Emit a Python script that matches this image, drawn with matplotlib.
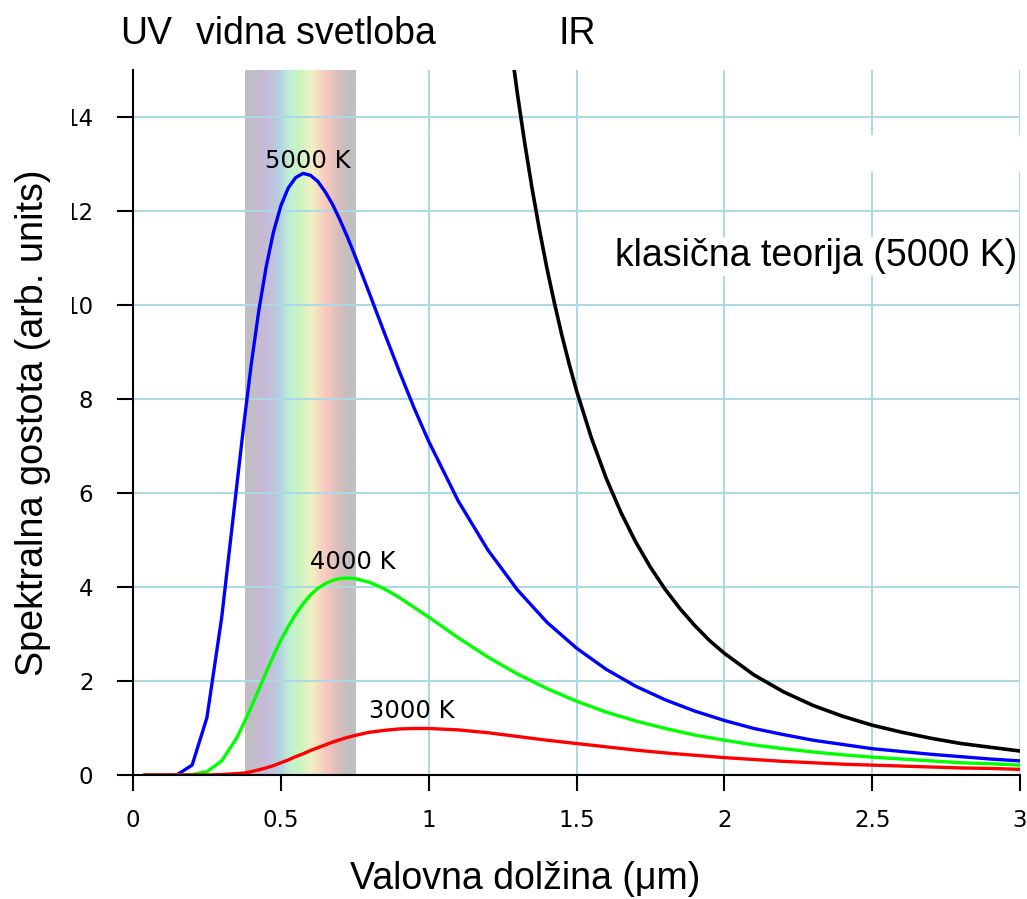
import numpy as np
import matplotlib
matplotlib.use("Agg")
import matplotlib.pyplot as plt
from matplotlib.colors import LinearSegmentedColormap
from matplotlib.patches import Rectangle

# ---------------- data ----------------
wavelength = [0.04, 0.10, 0.15, 0.20, 0.25, 0.30, 0.35, 0.375, 0.40, 0.425,
              0.45, 0.475, 0.50, 0.525, 0.55, 0.575, 0.60, 0.625, 0.65, 0.675,
              0.70, 0.725, 0.75, 0.80, 0.85, 0.90, 0.95, 1.00,
              1.1, 1.2, 1.3, 1.4, 1.5, 1.6, 1.7, 1.8, 1.9, 2.0,
              2.1, 2.2, 2.3, 2.4, 2.5, 2.6, 2.7, 2.8, 2.9, 3.0]
t5000 = [0.00, 0.00, 0.01, 0.21, 1.22, 3.35, 6.10, 7.47, 8.74, 9.86,
         10.80, 11.55, 12.11, 12.49, 12.71, 12.80, 12.76, 12.63, 12.41, 12.14,
         11.81, 11.45, 11.06, 10.24, 9.41, 8.60, 7.82, 7.10,
         5.83, 4.79, 3.94, 3.25, 2.70, 2.25, 1.89, 1.60, 1.36, 1.16,
         0.99, 0.86, 0.74, 0.65, 0.56, 0.50, 0.44, 0.39, 0.34, 0.30]
t4000 = [0.00, 0.00, 0.00, 0.01, 0.07, 0.30, 0.78, 1.10, 1.45, 1.81,
         2.18, 2.54, 2.87, 3.16, 3.42, 3.64, 3.83, 3.97, 4.07, 4.14,
         4.18, 4.19, 4.18, 4.10, 3.96, 3.78, 3.57, 3.36,
         2.92, 2.51, 2.15, 1.84, 1.57, 1.34, 1.15, 0.99, 0.85, 0.74,
         0.64, 0.56, 0.49, 0.43, 0.38, 0.34, 0.30, 0.26, 0.24, 0.21]
t3000 = [0.00, 0.00, 0.00, 0.00, 0.00, 0.01, 0.03, 0.04, 0.07, 0.11,
         0.15, 0.20, 0.26, 0.32, 0.39, 0.45, 0.52, 0.58, 0.64, 0.70,
         0.75, 0.80, 0.84, 0.91, 0.95, 0.98, 0.99, 0.99,
         0.96, 0.90, 0.82, 0.74, 0.67, 0.60, 0.53, 0.47, 0.42, 0.37,
         0.33, 0.29, 0.26, 0.23, 0.21, 0.19, 0.17, 0.15, 0.14, 0.12]
classic_wl = [1.25, 1.275, 1.30, 1.325, 1.35, 1.375, 1.40, 1.425, 1.45, 1.475,
              1.50, 1.55, 1.60, 1.65, 1.70, 1.75, 1.80, 1.85, 1.90, 1.95,
              2.0, 2.1, 2.2, 2.3, 2.4, 2.5, 2.6, 2.7, 2.8, 2.9, 3.0]
classic = [16.97, 15.67, 14.50, 13.44, 12.47, 11.59, 10.78, 10.05, 9.37, 8.75,
           8.18, 7.18, 6.32, 5.59, 4.96, 4.42, 3.95, 3.54, 3.18, 2.86,
           2.59, 2.13, 1.77, 1.48, 1.25, 1.06, 0.91, 0.78, 0.67, 0.59, 0.51]
visible_range = [0.379, 0.754]
xticks = [0, 0.5, 1, 1.5, 2, 2.5, 3]
xtick_labels = ["0", "0.5", "1", "1.5", "2", "2.5", "3"]
yticks = [0, 2, 4, 6, 8, 10, 12, 14]
ytick_labels = ["0", "2", "4", "6", "8", "10", "12", "14"]

# ---------------- figure ----------------
plt.rcParams['font.family'] = ['DejaVu Sans']
LAB = ['Liberation Sans', 'DejaVu Sans']

W, H = 1027, 899
fig = plt.figure(figsize=(W / 100, H / 100), dpi=100)
ax = fig.add_axes([133 / W, 1 - 775 / H, (1020 - 133) / W, (775 - 70) / H])

# visible light band
band_cmap = LinearSegmentedColormap.from_list("band", [
    (0.00, "#bfbfbf"), (0.08, "#c2bec9"), (0.17, "#c9b9d9"),
    (0.30, "#b8cbdf"), (0.40, "#c0efd6"), (0.48, "#c8f5c2"),
    (0.60, "#f2f0c2"), (0.73, "#f9c9c0"), (0.86, "#d5bdbd"),
    (0.95, "#c0c0c0"), (1.00, "#c0c0c0")])
grad = np.linspace(0, 1, 256)[None, :]
ax.imshow(grad, cmap=band_cmap, extent=[visible_range[0], visible_range[1], 0, 15],
          aspect='auto', zorder=0.2, interpolation='bilinear')

ax.set_axisbelow(True)
ax.grid(True, color='#add8e6', lw=1.5)

# white gap in grid lines
ax.add_patch(Rectangle((2.3, 12.83), 0.8, 0.79, facecolor='white',
                       edgecolor='none', zorder=0.9, clip_on=False))

ax.plot(classic_wl, classic, color='black', lw=2.6, zorder=2)
ax.plot(wavelength, t5000, color='#0000ff', lw=2.4, zorder=2)
ax.plot(wavelength, t4000, color='#00ff00', lw=2.4, zorder=2)
ax.plot(wavelength, t3000, color='#ff0000', lw=2.4, zorder=2)

ax.set_xlim(0, 3)
ax.set_ylim(0, 15)
ax.set_xticks(xticks)
ax.set_xticklabels(xtick_labels)
ax.set_yticks(yticks)
ax.set_yticklabels(ytick_labels)
for s in ['top', 'right']:
    ax.spines[s].set_visible(False)
for s in ['left', 'bottom']:
    ax.spines[s].set_linewidth(1.5)
ax.tick_params(axis='both', direction='out', length=11.5, width=1.5,
               labelsize=16.5)
ax.tick_params(axis='x', pad=13)
ax.tick_params(axis='y', pad=17)

# curve labels
ax.text(0.592, 12.92, "5000 K", fontsize=17.5, ha='center', va='baseline', zorder=3)
ax.text(0.744, 4.39, "4000 K", fontsize=17.5, ha='center', va='baseline', zorder=3)
ax.text(0.944, 1.21, "3000 K", fontsize=17.5, ha='center', va='baseline', zorder=3)
ax.text(1.63, 10.82, "klasična teorija (5000 K)", family=LAB, fontsize=27,
        ha='left', va='baseline', zorder=3,
        bbox=dict(facecolor='white', edgecolor='none', pad=1))

# region labels above the plot
for xx, s in [(0.046, "UV"), (0.619, "vidna svetloba"), (1.502, "IR")]:
    ax.text(xx, 15.55, s, family=LAB, fontsize=27, ha='center',
            va='baseline', clip_on=False)

# clip of the leftmost tick-label digits
fig.patches.append(Rectangle((0, 0), 72 / W, 1, transform=fig.transFigure,
                             facecolor='white', edgecolor='none', zorder=1))

fig.text(33 / W, 1 - 423 / H, "Spektralna gostota (arb. units)", family=LAB,
         fontsize=27.2, rotation=90, ha='center', va='center', zorder=3)
fig.text(525 / W, 1 - 889 / H, "Valovna dolžina (μm)", family=LAB,
         fontsize=27, ha='center', va='baseline', zorder=3)

fig.savefig("out.png", dpi=100)
